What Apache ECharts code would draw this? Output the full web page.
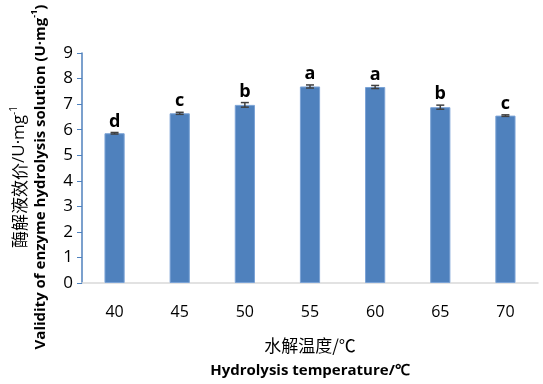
<!DOCTYPE html>
<html lang="zh">
<head>
    <meta charset="UTF-8">
    <title>hydrolysis temperature</title>
    <script src="https://cdn.jsdelivr.net/npm/echarts@6/dist/echarts.min.js"></script>
    <style>
        body { margin: 0; background: #fff; }
    </style>
</head>
<body>
<div id="main" style="width: 543px;height:384px;"></div>
<script>
    var temps = ['40', '45', '50', '55', '60', '65', '70'];
    var activity = [5.86, 6.64, 6.97, 7.69, 7.67, 6.88, 6.55];
    var errors = [0.03, 0.04, 0.09, 0.06, 0.06, 0.08, 0.03];
    var letters = ['d', 'c', 'b', 'a', 'a', 'b', 'c'];

    var myChart = echarts.init(document.getElementById('main'));

    var errData = [];
    for (var i = 0; i < temps.length; i++) {
        errData.push([i, activity[i], errors[i], letters[i]]);
    }

    function renderErr(params, api) {
        var x = api.value(0);
        var v = api.value(1);
        var e = api.value(2);
        var hi = api.coord([x, v + e]);
        var lo = api.coord([x, v - e]);
        var cap = 4;
        var st = { stroke: '#404040', lineWidth: 1.5 };
        return {
            type: 'group',
            children: [
                { type: 'line', shape: { x1: hi[0], y1: hi[1], x2: lo[0], y2: lo[1] }, style: st },
                { type: 'line', shape: { x1: hi[0] - cap, y1: hi[1], x2: hi[0] + cap, y2: hi[1] }, style: st },
                { type: 'line', shape: { x1: lo[0] - cap, y1: lo[1], x2: lo[0] + cap, y2: lo[1] }, style: st },
                {
                    type: 'text',
                    style: {
                        text: api.value(3),
                        x: hi[0], y: hi[1] - 2,
                        align: 'center', verticalAlign: 'bottom',
                        font: 'bold 18px "Open Sans"', fill: '#000'
                    }
                }
            ]
        };
    }

    var option = {
        animation: false,
        grid: { left: 82, right: 5, top: 53, bottom: 101, outerBoundsMode: 'none' },
        xAxis: {
            type: 'category',
            data: temps,
            axisLine: { lineStyle: { color: '#d9d9d9', width: 1.5 } },
            axisTick: { inside: true, length: 5, lineStyle: { color: '#d9d9d9' } },
            axisLabel: { margin: 21, fontSize: 16, color: '#000', fontFamily: 'Open Sans' },
            name: '{cn|水解温度}{cnl|/℃}\n{en|Hydrolysis temperature/℃}',
            nameLocation: 'middle',
            nameGap: 50,
            nameTextStyle: {
                rich: {
                    cn: { fontSize: 17, fontFamily: 'Noto Sans CJK SC', color: '#000', lineHeight: 25 },
                    cnl: { fontSize: 17, fontFamily: 'Noto Sans CJK SC', color: '#000', lineHeight: 25 },
                    en: { fontSize: 15, fontWeight: 'bold', fontFamily: 'Open Sans', color: '#000', lineHeight: 25 }
                }
            }
        },
        yAxis: {
            type: 'value',
            min: 0,
            max: 9,
            interval: 1,
            splitLine: { show: false },
            axisLine: { show: true, lineStyle: { color: '#4f81bd', width: 1.5 } },
            axisTick: { show: true, length: 5, lineStyle: { color: '#4f81bd' } },
            axisLabel: { margin: 9, fontSize: 17, color: '#000', fontFamily: 'Open Sans' },
            name: '{cn|酶解液效价}{lat|/U·mg}{latsup|-1}\n{en|Validity of enzyme hydrolysis solution (U·mg}{ensup|-1}{en|)}',
            nameLocation: 'middle',
            nameRotate: 90,
            nameGap: 31,
            nameTextStyle: {
                padding: [0, 18, 0, 0],
                rich: {
                    cn: { fontSize: 17, fontFamily: 'Noto Sans CJK SC', color: '#000', lineHeight: 21 },
                    lat: { fontSize: 17, fontFamily: 'Open Sans', color: '#000', lineHeight: 21 },
                    latsup: { fontSize: 10, fontFamily: 'Open Sans', color: '#000', verticalAlign: 'top', lineHeight: 21 },
                    en: { fontSize: 15, fontWeight: 'bold', fontFamily: 'Open Sans', color: '#000', lineHeight: 21 },
                    ensup: { fontSize: 9, fontWeight: 'bold', fontFamily: 'Open Sans', color: '#000', verticalAlign: 'top', lineHeight: 21 }
                }
            }
        },
        series: [
            {
                type: 'bar',
                data: activity,
                barWidth: '31%',
                itemStyle: { color: '#4f81bd', borderColor: '#7ba3d6', borderWidth: 1 }
            },
            {
                type: 'custom',
                data: errData,
                renderItem: renderErr,
                z: 5
            }
        ]
    };
    myChart.setOption(option);
</script>
</body>
</html>
